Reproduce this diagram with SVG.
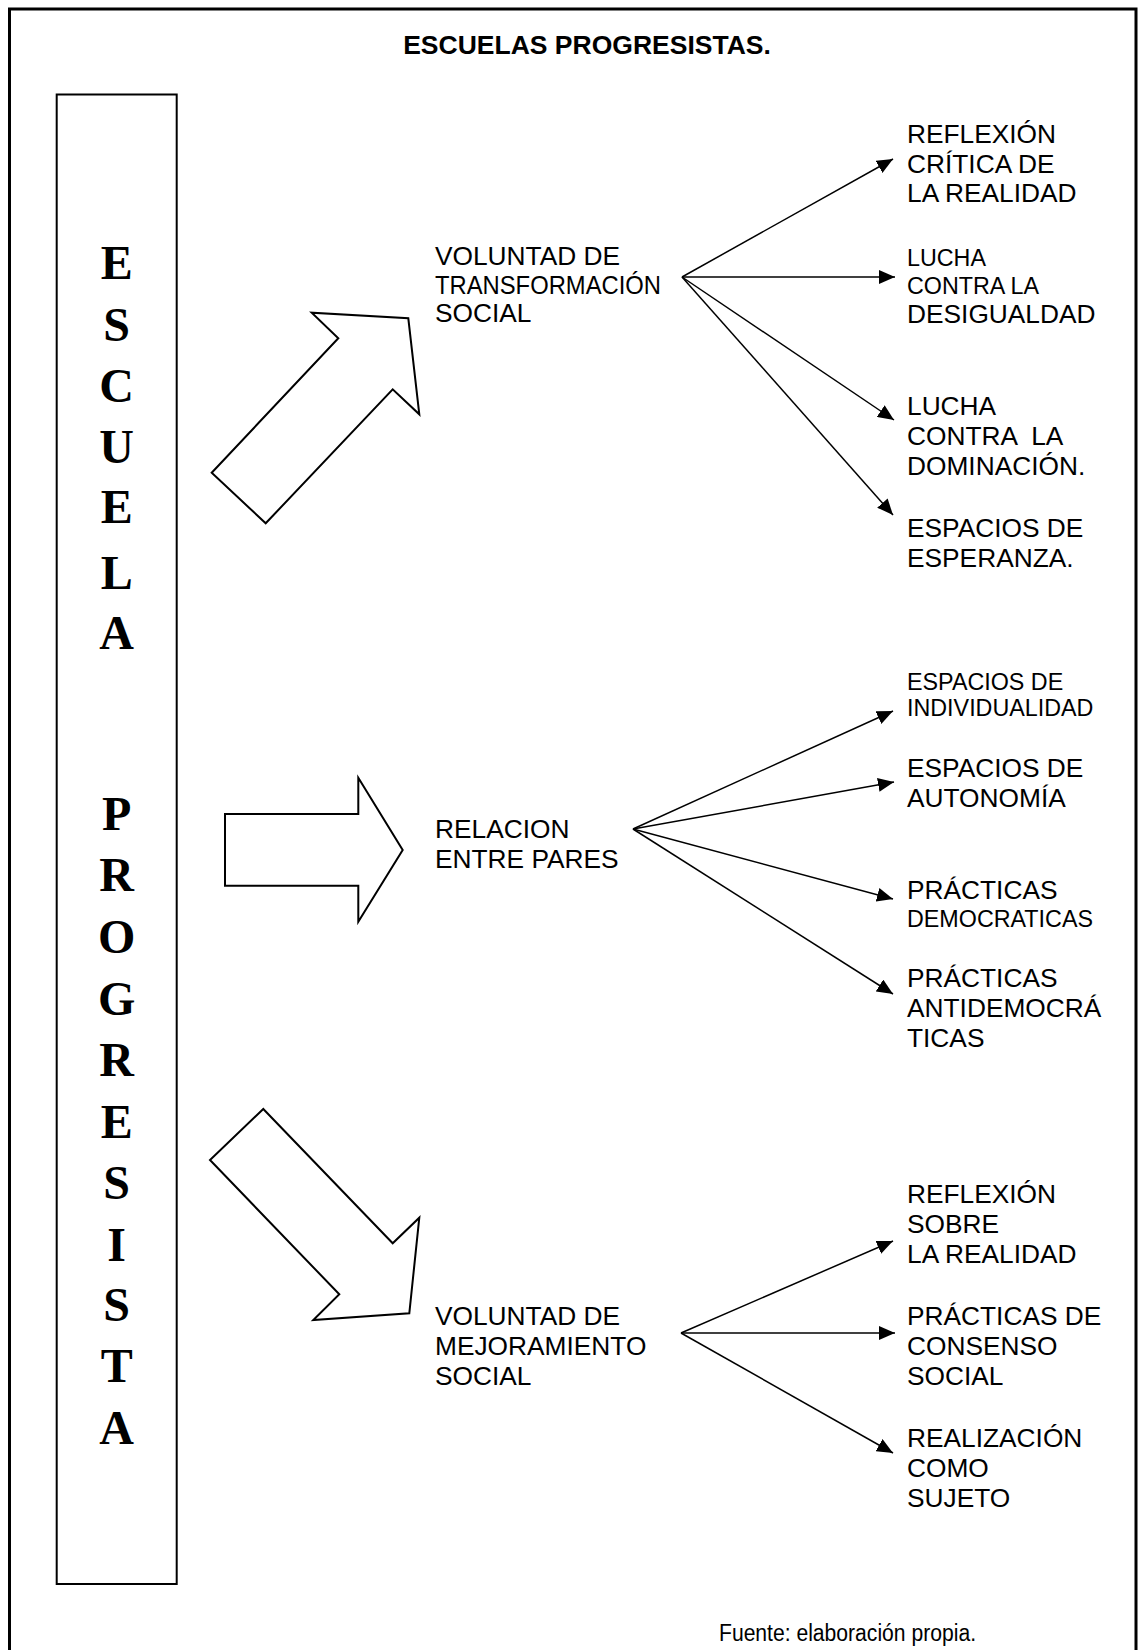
<svg xmlns="http://www.w3.org/2000/svg" width="1140" height="1650" viewBox="0 0 1140 1650">
<style>
  .frame{fill:none;stroke:#000;stroke-width:3}
  .box{fill:#fff;stroke:#000;stroke-width:2}
  .big{fill:#fff;stroke:#000;stroke-width:2;stroke-linejoin:miter}
  .title{font-family:"Liberation Sans",Arial,sans-serif;font-weight:bold;font-size:26.5px;fill:#000}
  .L{font-family:"Liberation Sans",Arial,sans-serif;font-size:26.3px;fill:#000}
  .S{font-family:"Liberation Sans",Arial,sans-serif;font-size:23.3px;fill:#000}
  .V{font-family:"Liberation Serif","Times New Roman",serif;font-weight:bold;font-size:48px;fill:#000;text-anchor:middle}
  .foot{font-family:"Liberation Sans",Arial,sans-serif;font-size:23px;fill:#000}
  .conn line{stroke:#000;stroke-width:1.5;marker-end:url(#ah)}
</style>
<defs>
  <marker id="ah" markerWidth="16" markerHeight="14" refX="16" refY="7" orient="auto" markerUnits="userSpaceOnUse">
    <path d="M0,0 L16,7 L0,14 z" fill="#000"/>
  </marker>
</defs>
<rect x="0" y="0" width="1140" height="1650" fill="#fff"/>
<rect class="frame" x="9.5" y="9" width="1126.5" height="1700"/>
<text class="title" x="587" y="54" text-anchor="middle">ESCUELAS PROGRESISTAS.</text>

<g id="escuela-progresista">
  <rect class="box" x="56.7" y="94.5" width="120" height="1489.5"/>
  <text class="V" x="116.7" y="279">E</text>
  <text class="V" x="116.7" y="340.5">S</text>
  <text class="V" x="116.7" y="402">C</text>
  <text class="V" x="116.7" y="463">U</text>
  <text class="V" x="116.7" y="523">E</text>
  <text class="V" x="116.7" y="589">L</text>
  <text class="V" x="116.7" y="649">A</text>
  <text class="V" x="116.7" y="830">P</text>
  <text class="V" x="116.7" y="891">R</text>
  <text class="V" x="116.7" y="953">O</text>
  <text class="V" x="116.7" y="1015">G</text>
  <text class="V" x="116.7" y="1076">R</text>
  <text class="V" x="116.7" y="1138">E</text>
  <text class="V" x="116.7" y="1199">S</text>
  <text class="V" x="116.7" y="1261">I</text>
  <text class="V" x="116.7" y="1321">S</text>
  <text class="V" x="116.7" y="1382">T</text>
  <text class="V" x="116.7" y="1444">A</text>
</g>

<g id="arrow-up">
  <polygon class="big" points="211.7,472.7 338.3,338.3 311.7,312.7 408.3,318.3 419.3,414.3 392.7,389.3 265.7,523.3"/>
</g>
<g id="arrow-right">
  <polygon class="big" points="225,814 358.3,814 358.3,777.7 402.7,850 358.3,921.7 358.3,885.7 225,885.7"/>
</g>
<g id="arrow-down">
  <polygon class="big" points="263.3,1109 392.7,1243.3 419.3,1217.7 409.3,1313.3 313.3,1320 339.3,1294.3 210,1160"/>
</g>

<g id="voluntad-transformacion">
  <text class="L" x="435" y="265">VOLUNTAD DE</text>
  <text class="L" x="435" y="294" textLength="226" lengthAdjust="spacingAndGlyphs">TRANSFORMACIÓN</text>
  <text class="L" x="435" y="322">SOCIAL</text>
</g>
<g id="relacion-pares">
  <text class="L" x="435" y="838">RELACION</text>
  <text class="L" x="435" y="868">ENTRE PARES</text>
</g>
<g id="voluntad-mejoramiento">
  <text class="L" x="435" y="1325">VOLUNTAD DE</text>
  <text class="L" x="435" y="1355">MEJORAMIENTO</text>
  <text class="L" x="435" y="1385">SOCIAL</text>
</g>

<g id="reflexion-critica">
  <text class="L" x="907" y="143">REFLEXIÓN</text>
  <text class="L" x="907" y="173">CRÍTICA DE</text>
  <text class="L" x="907" y="202">LA REALIDAD</text>
</g>
<g id="lucha-desigualdad">
  <text class="S" x="907" y="266">LUCHA</text>
  <text class="S" x="907" y="294">CONTRA LA</text>
  <text class="L" x="907" y="323">DESIGUALDAD</text>
</g>
<g id="lucha-dominacion">
  <text class="L" x="907" y="415">LUCHA</text>
  <text class="L" x="907" y="445" style="white-space:pre">CONTRA  LA</text>
  <text class="L" x="907" y="475">DOMINACIÓN.</text>
</g>
<g id="espacios-esperanza">
  <text class="L" x="907" y="537">ESPACIOS DE</text>
  <text class="L" x="907" y="567">ESPERANZA.</text>
</g>

<g id="espacios-individualidad">
  <text class="S" x="907" y="690">ESPACIOS DE</text>
  <text class="S" x="907" y="716">INDIVIDUALIDAD</text>
</g>
<g id="espacios-autonomia">
  <text class="L" x="907" y="777">ESPACIOS DE</text>
  <text class="L" x="907" y="807">AUTONOMÍA</text>
</g>
<g id="practicas-democraticas">
  <text class="L" x="907" y="899">PRÁCTICAS</text>
  <text class="S" x="907" y="927">DEMOCRATICAS</text>
</g>
<g id="practicas-antidemocraticas">
  <text class="L" x="907" y="987">PRÁCTICAS</text>
  <text class="L" x="907" y="1017">ANTIDEMOCRÁ</text>
  <text class="L" x="907" y="1047">TICAS</text>
</g>

<g id="reflexion-sobre">
  <text class="L" x="907" y="1203">REFLEXIÓN</text>
  <text class="L" x="907" y="1233">SOBRE</text>
  <text class="L" x="907" y="1263">LA REALIDAD</text>
</g>
<g id="practicas-consenso">
  <text class="L" x="907" y="1325">PRÁCTICAS DE</text>
  <text class="L" x="907" y="1355">CONSENSO</text>
  <text class="L" x="907" y="1385">SOCIAL</text>
</g>
<g id="realizacion-sujeto">
  <text class="L" x="907" y="1447">REALIZACIÓN</text>
  <text class="L" x="907" y="1477">COMO</text>
  <text class="L" x="907" y="1507">SUJETO</text>
</g>

<g id="connectors" class="conn">
  <line x1="682" y1="277" x2="893" y2="159"/>
  <line x1="682" y1="277" x2="895" y2="277"/>
  <line x1="682" y1="277" x2="894" y2="420"/>
  <line x1="682" y1="277" x2="893" y2="515"/>
  <line x1="633" y1="829" x2="893" y2="711"/>
  <line x1="633" y1="829" x2="894" y2="782"/>
  <line x1="633" y1="829" x2="893" y2="899"/>
  <line x1="633" y1="829" x2="893" y2="994"/>
  <line x1="681" y1="1333" x2="893" y2="1241"/>
  <line x1="681" y1="1333" x2="895" y2="1333"/>
  <line x1="681" y1="1333" x2="893" y2="1453"/>
</g>

<text class="foot" x="719" y="1641" textLength="257" lengthAdjust="spacingAndGlyphs">Fuente: elaboración propia.</text>
</svg>
